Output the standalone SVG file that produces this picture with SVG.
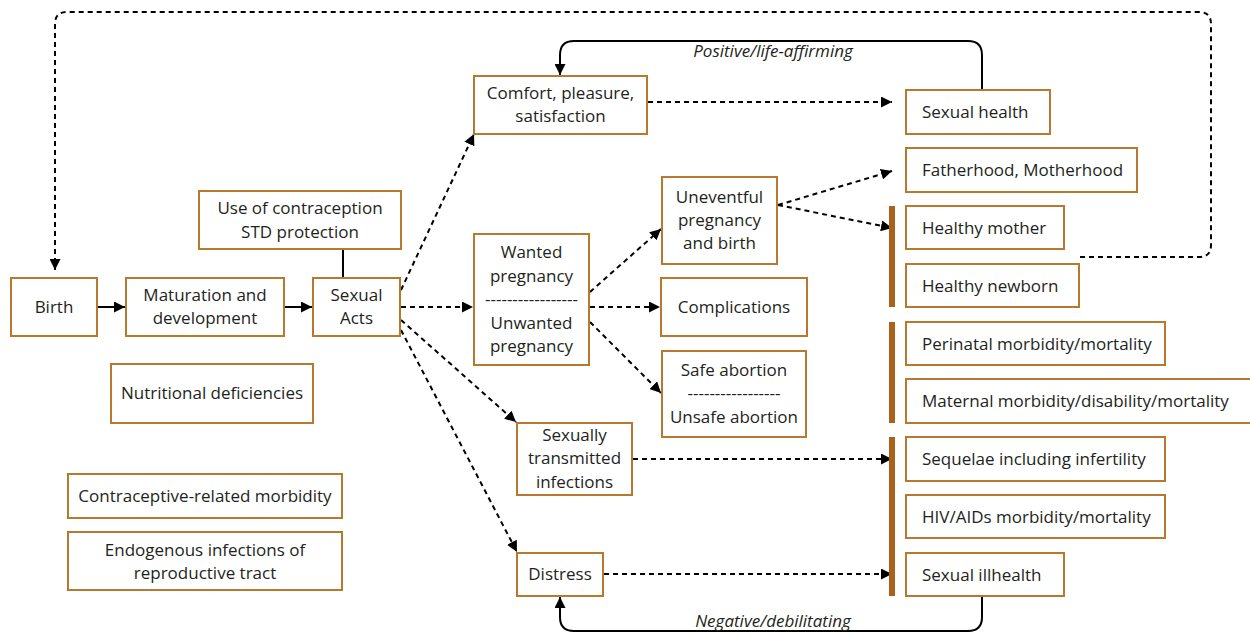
<svg xmlns="http://www.w3.org/2000/svg" width="1250" height="633" viewBox="0 0 1250 633">
<defs>
<style>
.box{fill:#fff;stroke:#b8782e;stroke-width:2}
.bar{fill:#a8621a}
.t{font-family:"Open Sans","Liberation Sans",Arial,sans-serif;font-size:17px;fill:#231f20}
.c{text-anchor:middle}
.i{font-style:italic}
.sl{fill:none;stroke:#000;stroke-width:2}
.dl{fill:none;stroke:#000;stroke-width:2;stroke-dasharray:5 4}
</style>
<marker id="ah" viewBox="0 0 10 10" refX="10" refY="5" markerWidth="11" markerHeight="11" markerUnits="userSpaceOnUse" orient="auto">
<path d="M0,0 L10,5 L0,10 z" fill="#000"/>
</marker>
</defs>
<rect width="1250" height="633" fill="#fff"/>

<g id="connectors">
<path class="dl" d="M1080,257 H1199 Q1211,257 1211,245 V24 Q1211,12 1199,12 H67 Q55,12 55,24 V270" marker-end="url(#ah)"/>
<path class="sl" d="M97,307 H125" marker-end="url(#ah)"/>
<path class="sl" d="M284,307 H312" marker-end="url(#ah)"/>
<path class="sl" d="M343,249 V278"/>
<path class="sl" d="M982,90 V55 Q982,41 968,41 H574 Q560,41 560,55 V75" marker-end="url(#ah)"/>
<path class="sl" d="M982,596 V617 Q982,631 968,631 H574 Q560,631 560,617 V597" marker-end="url(#ah)"/>
<path class="dl" d="M401,290 L474,134" marker-end="url(#ah)"/>
<path class="dl" d="M401,307 H473" marker-end="url(#ah)"/>
<path class="dl" d="M401,320 L516,422" marker-end="url(#ah)"/>
<path class="dl" d="M401,330 L517,552" marker-end="url(#ah)"/>
<path class="dl" d="M590,292 L661,229" marker-end="url(#ah)"/>
<path class="dl" d="M590,307 H660" marker-end="url(#ah)"/>
<path class="dl" d="M590,322 L661,393" marker-end="url(#ah)"/>
<path class="dl" d="M778,205 L892,171" marker-end="url(#ah)"/>
<path class="dl" d="M778,205 L892,228" marker-end="url(#ah)"/>
<path class="dl" d="M648,102 H892" marker-end="url(#ah)"/>
<path class="dl" d="M633,459 H892" marker-end="url(#ah)"/>
<path class="dl" d="M604,574 H892" marker-end="url(#ah)"/>
</g>

<g id="bars">
<rect class="bar" x="889" y="206" width="6" height="101"/>
<rect class="bar" x="889" y="322" width="6" height="101"/>
<rect class="bar" x="889" y="437" width="6" height="159"/>
</g>

<g id="labels">
<text class="t c i" x="773" y="57">Positive/life-affirming</text>
<text class="t c i" x="773" y="627">Negative/debilitating</text>
</g>

<g id="birth"><rect class="box" x="11" y="278" width="86" height="58"/><text class="t c" x="54" y="313">Birth</text></g>
<g id="maturation"><rect class="box" x="126" y="278" width="158" height="58"/><text class="t c" x="205" y="301">Maturation and</text><text class="t c" x="205" y="324">development</text></g>
<g id="sexual-acts"><rect class="box" x="313" y="278" width="87" height="58"/><text class="t c" x="356.5" y="301">Sexual</text><text class="t c" x="356.5" y="324">Acts</text></g>
<g id="contraception"><rect class="box" x="199" y="191" width="202" height="58"/><text class="t c" x="300" y="214">Use of contraception</text><text class="t c" x="300" y="238">STD protection</text></g>
<g id="nutritional"><rect class="box" x="111" y="364" width="202" height="59"/><text class="t c" x="212" y="399">Nutritional deficiencies</text></g>
<g id="contraceptive-morbidity"><rect class="box" x="68" y="474" width="274" height="44"/><text class="t c" x="205" y="502">Contraceptive-related morbidity</text></g>
<g id="endogenous"><rect class="box" x="68" y="532" width="274" height="58"/><text class="t c" x="205" y="556">Endogenous infections of</text><text class="t c" x="205" y="579">reproductive tract</text></g>

<g id="comfort"><rect class="box" x="474" y="76" width="173" height="58"/><text class="t c" x="560.5" y="99">Comfort, pleasure,</text><text class="t c" x="560.5" y="122">satisfaction</text></g>
<g id="pregnancy"><rect class="box" x="474" y="234" width="115" height="131"/><text class="t c" x="531.5" y="258">Wanted</text><text class="t c" x="531.5" y="282">pregnancy</text><text class="t c" x="531.5" y="305">-----------------</text><text class="t c" x="531.5" y="329">Unwanted</text><text class="t c" x="531.5" y="352">pregnancy</text></g>
<g id="sti"><rect class="box" x="517" y="423" width="115" height="72"/><text class="t c" x="574.5" y="441">Sexually</text><text class="t c" x="574.5" y="464">transmitted</text><text class="t c" x="574.5" y="488">infections</text></g>
<g id="distress"><rect class="box" x="517" y="553" width="86" height="43"/><text class="t c" x="560" y="580">Distress</text></g>

<g id="uneventful"><rect class="box" x="662" y="177" width="115" height="87"/><text class="t c" x="719.5" y="203">Uneventful</text><text class="t c" x="719.5" y="226">pregnancy</text><text class="t c" x="719.5" y="249">and birth</text></g>
<g id="complications"><rect class="box" x="661" y="278" width="146" height="58"/><text class="t c" x="734" y="313">Complications</text></g>
<g id="abortion"><rect class="box" x="662" y="351" width="144" height="86"/><text class="t c" x="734" y="376">Safe abortion</text><text class="t c" x="734" y="399">-----------------</text><text class="t c" x="734" y="423">Unsafe abortion</text></g>

<g id="sexual-health"><rect class="box" x="906" y="90" width="144" height="44"/><text class="t" x="922" y="118">Sexual health</text></g>
<g id="parenthood"><rect class="box" x="906" y="148" width="231" height="44"/><text class="t" x="922" y="176">Fatherhood, Motherhood</text></g>
<g id="healthy-mother"><rect class="box" x="906" y="206" width="158" height="43"/><text class="t" x="922" y="234">Healthy mother</text></g>
<g id="healthy-newborn"><rect class="box" x="906" y="264" width="173" height="43"/><text class="t" x="922" y="292">Healthy newborn</text></g>
<g id="perinatal"><rect class="box" x="906" y="322" width="259" height="43"/><text class="t" x="922" y="350">Perinatal morbidity/mortality</text></g>
<g id="maternal"><rect class="box" x="906" y="379" width="360" height="44"/><text class="t" x="922" y="407">Maternal morbidity/disability/mortality</text></g>
<g id="sequelae"><rect class="box" x="906" y="437" width="259" height="44"/><text class="t" x="922" y="465">Sequelae including infertility</text></g>
<g id="hiv"><rect class="box" x="906" y="495" width="259" height="43"/><text class="t" x="922" y="523">HIV/AIDs morbidity/mortality</text></g>
<g id="illhealth"><rect class="box" x="906" y="553" width="158" height="43"/><text class="t" x="922" y="581">Sexual illhealth</text></g>
</svg>
